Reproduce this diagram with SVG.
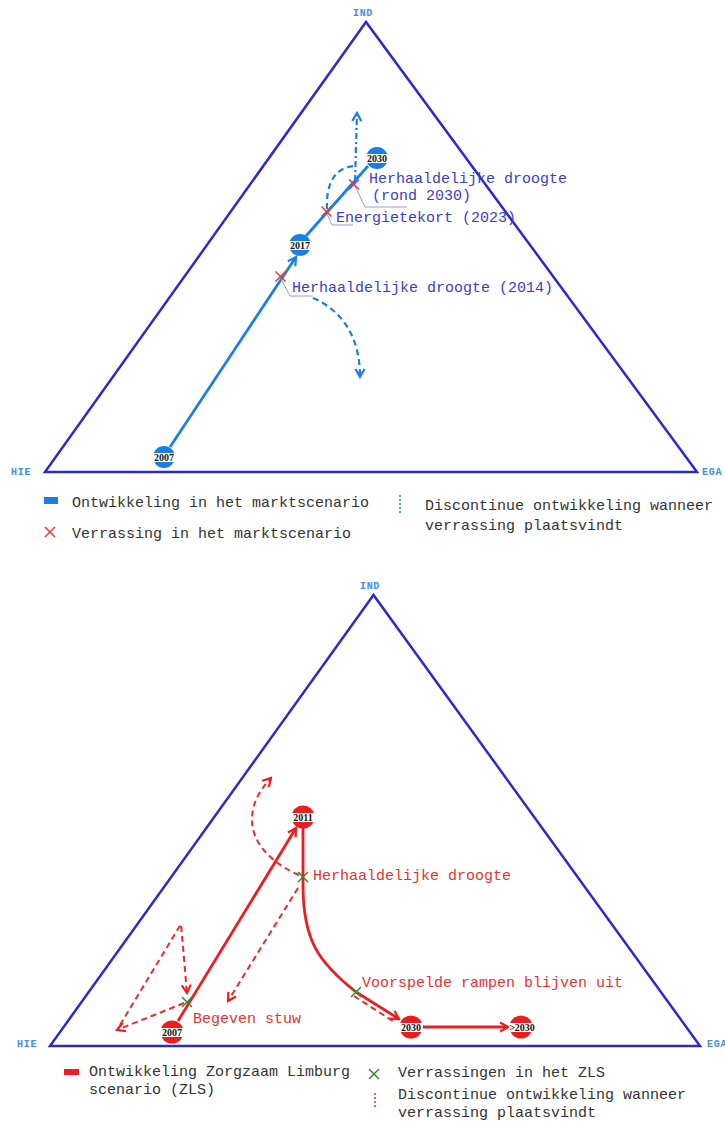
<svg xmlns="http://www.w3.org/2000/svg" width="725" height="1126" viewBox="0 0 725 1126">
  <style>
    .tri { fill: none; stroke: #2b2bcc; stroke-width: 2.5; stroke-linejoin: miter; }
    .axis { font-family: "Liberation Mono", monospace; font-size: 10px; font-weight: bold; fill: #3d8fe0; letter-spacing: 0.7px; }
    .lblB { font-family: "Liberation Mono", monospace; font-size: 15px; fill: #3b3bd0; }
    .lblR { font-family: "Liberation Mono", monospace; font-size: 15px; fill: #e8312f; }
    .leg { font-family: "Liberation Mono", monospace; font-size: 15px; fill: #333333; }
    .year { font-family: "Liberation Serif", serif; font-size: 10px; font-weight: bold; fill: #111111; text-anchor: middle; }
    .bMain { fill: none; stroke: #1a7de8; stroke-width: 2.8; }
    .bDash { fill: none; stroke: #1a7de8; stroke-width: 2.2; stroke-dasharray: 6 4; }
    .bDashDot { fill: none; stroke: #1a7de8; stroke-width: 2.2; stroke-dasharray: 6 3 2 3; }
    .rMain { fill: none; stroke: #ee1c1c; stroke-width: 2.8; }
    .rDash { fill: none; stroke: #ee2a2a; stroke-width: 2; stroke-dasharray: 6 4; }
    .lead { fill: none; stroke: #9a9ad8; stroke-width: 1; }
    .xR { stroke: #ee3333; stroke-width: 1.5; }
    .xG { stroke: #2e8b2e; stroke-width: 1.5; }
    .band { fill: #ffffff; }
  </style>
  <defs>
    <marker id="arrB" viewBox="-10 -6 12 12" refX="0" refY="0" markerWidth="12" markerHeight="12" markerUnits="userSpaceOnUse" orient="auto">
      <path d="M-8,-4.5 L0,0 L-8,4.5" fill="none" stroke="#1a7de8" stroke-width="2.2"/>
    </marker>
    <marker id="arrR" viewBox="-10 -6 12 12" refX="0" refY="0" markerWidth="12" markerHeight="12" markerUnits="userSpaceOnUse" orient="auto">
      <path d="M-8,-4.5 L0,0 L-8,4.5" fill="none" stroke="#ee1c1c" stroke-width="2.2"/>
    </marker>
    <g id="crossR"><line class="xR" x1="-5" y1="-5" x2="5" y2="5"/><line class="xR" x1="-5" y1="5" x2="5" y2="-5"/></g>
    <g id="crossG"><line class="xG" x1="-5" y1="-5" x2="5" y2="5"/><line class="xG" x1="-5" y1="5" x2="5" y2="-5"/></g>
    <g id="discB"><circle r="11" fill="#1a7de8"/><rect class="band" x="-11.5" y="-4" width="23" height="9"/></g>
    <g id="discR"><circle r="11.5" fill="#ee1c1c"/><rect class="band" x="-12" y="-4" width="24" height="9"/></g>
  </defs>

  <rect width="725" height="1126" fill="#ffffff"/>

  <!-- ===== Market scenario triangle ===== -->
  <g id="triangle-top">
    <polygon class="tri" points="366,22 45,472 697,472"/>
    <text class="axis" x="363" y="16" text-anchor="middle">IND</text>
    <text class="axis" x="11" y="475">HIE</text>
    <text class="axis" x="702" y="475">EGA</text>
  </g>

  <g id="connectors-top">
    <path class="bMain" d="M170 447 L296 257" marker-end="url(#arrB)"/>
    <path class="bMain" d="M306 236 L368 166"/>
    <path class="bDash" d="M313 298 C345 312 360 340 360 377" marker-end="url(#arrB)"/>
    <path class="bDash" d="M327 209 C326 186 333 168 354 166"/>
    <path class="bDashDot" d="M355 181 L357 113" marker-end="url(#arrB)"/>
    <path class="lead" d="M281 279 L290 296 L313 296"/>
    <path class="lead" d="M327 214 L332 225 L353 225"/>
    <path class="lead" d="M355 186 L365 207 L407 207"/>
  </g>

  <g id="node-top-2007"><use href="#discB" x="164" y="457"/><text class="year" x="164" y="461">2007</text></g>
  <g id="node-top-2017"><use href="#discB" x="300" y="245"/><text class="year" x="300" y="249">2017</text></g>
  <g id="node-top-2030"><use href="#discB" x="377" y="158"/><text class="year" x="377" y="162">2030</text></g>

  <g id="event-top-2014">
    <use href="#crossR" x="280.5" y="276.5"/>
    <text class="lblB" x="292" y="292">Herhaaldelijke droogte (2014)</text>
  </g>
  <g id="event-top-2023">
    <use href="#crossR" x="326.5" y="211.5"/>
    <text class="lblB" x="336" y="222">Energietekort (2023)</text>
  </g>
  <g id="event-top-2030">
    <use href="#crossR" x="354" y="184.5"/>
    <text class="lblB" x="369" y="183">Herhaaldelijke droogte</text>
    <text class="lblB" x="372" y="200">(rond 2030)</text>
  </g>

  <g id="legend-top">
    <rect x="44" y="497" width="14" height="7" fill="#1a7de8"/>
    <text class="leg" x="72" y="507">Ontwikkeling in het marktscenario</text>
    <use href="#crossR" x="50" y="532"/>
    <text class="leg" x="72" y="538">Verrassing in het marktscenario</text>
    <line x1="400" y1="495" x2="400" y2="515" stroke="#1a7de8" stroke-width="1.5" stroke-dasharray="2 2"/>
    <text class="leg" x="425" y="510">Discontinue ontwikkeling wanneer</text>
    <text class="leg" x="425" y="530">verrassing plaatsvindt</text>
  </g>

  <!-- ===== Zorgzaam Limburg scenario triangle ===== -->
  <g id="triangle-bottom">
    <polygon class="tri" points="373.5,595 50,1046 700,1046"/>
    <text class="axis" x="370" y="589" text-anchor="middle">IND</text>
    <text class="axis" x="17" y="1047">HIE</text>
    <text class="axis" x="707" y="1047">EGA</text>
  </g>

  <g id="connectors-bottom">
    <path class="rMain" d="M178 1021 L296 828" marker-end="url(#arrR)"/>
    <path class="rMain" d="M303 828 L303 885 C303 940 318 962 356 992 L399 1019" marker-end="url(#arrR)"/>
    <path class="rMain" d="M423 1027 L508 1027" marker-end="url(#arrR)"/>
    <path class="rDash" d="M184 1003 L117 1030" marker-end="url(#arrR)"/>
    <path class="rDash" d="M120 1025 L181 924 L187 993" marker-end="url(#arrR)"/>
    <path class="rDash" d="M299 875 C275 865 252 845 252 820 C252 805 258 792 271 778" marker-end="url(#arrR)"/>
    <path class="rDash" d="M298 888 L228 1001" marker-end="url(#arrR)"/>
    <path class="rDash" d="M354 996 L396 1023"/>
  </g>

  <g id="node-bot-2011"><use href="#discR" x="303" y="817"/><text class="year" x="303" y="821">2011</text></g>
  <g id="node-bot-2007"><use href="#discR" x="172" y="1032"/><text class="year" x="172" y="1036">2007</text></g>
  <g id="node-bot-2030"><use href="#discR" x="411" y="1027"/><text class="year" x="411" y="1031">2030</text></g>
  <g id="node-bot-after2030"><use href="#discR" x="521" y="1027"/><text class="year" x="522" y="1031">&gt;2030</text></g>

  <g id="event-bot-stuw">
    <use href="#crossG" x="187" y="1002"/>
    <text class="lblR" x="193" y="1023">Begeven stuw</text>
  </g>
  <g id="event-bot-droogte">
    <use href="#crossG" x="303" y="877"/>
    <text class="lblR" x="313" y="880">Herhaaldelijke droogte</text>
  </g>
  <g id="event-bot-rampen">
    <use href="#crossG" x="356" y="992"/>
    <text class="lblR" x="362" y="987">Voorspelde rampen blijven uit</text>
  </g>

  <g id="legend-bottom">
    <rect x="64" y="1069" width="15" height="6" fill="#ee1c1c"/>
    <text class="leg" x="89" y="1076">Ontwikkeling Zorgzaam Limburg</text>
    <text class="leg" x="89" y="1094">scenario (ZLS)</text>
    <use href="#crossG" x="374" y="1074"/>
    <text class="leg" x="398" y="1077">Verrassingen in het ZLS</text>
    <line x1="375" y1="1093" x2="375" y2="1109" stroke="#ee2a2a" stroke-width="1.5" stroke-dasharray="2 2"/>
    <text class="leg" x="398" y="1099">Discontinue ontwikkeling wanneer</text>
    <text class="leg" x="398" y="1117">verrassing plaatsvindt</text>
  </g>
</svg>
